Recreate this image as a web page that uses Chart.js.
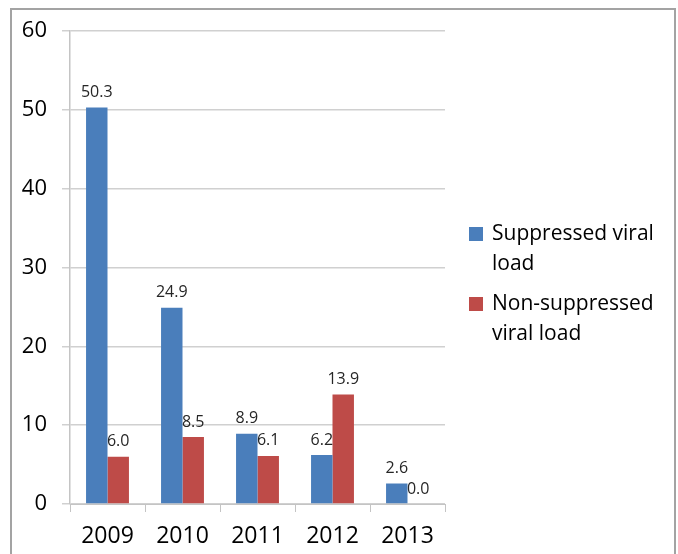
<!DOCTYPE html>
<html>
<head>
<meta charset="utf-8">
<script src="https://cdn.jsdelivr.net/npm/chart.js@4/dist/chart.umd.min.js"></script>
<style>
  html, body { margin: 0; padding: 0; background: #fff; overflow: hidden; }
  #wrap { position: relative; width: 678px; height: 554px; }
  #frame { position: absolute; left: 10px; top: 8px; width: 662px; height: 600px; border: 2px solid #a3a3a3; pointer-events: none; }
  canvas { position: absolute; left: 0; top: 0; }
</style>
</head>
<body>
<div id="wrap">
  <canvas id="c" width="678" height="554"></canvas>
  <div id="frame"></div>
</div>
<script>
const categories = ['2009', '2010', '2011', '2012', '2013'];
const suppressed = [50.3, 24.9, 8.9, 6.2, 2.6];
const nonSuppressed = [6.0, 8.5, 6.1, 13.9, 0.0];
const seriesNames = ['Suppressed viral load', 'Non-suppressed viral load'];
const legendLines = [['Suppressed viral', 'load'], ['Non-suppressed', 'viral load']];
const yTicks = [0, 10, 20, 30, 40, 50, 60];

const FONT = "'Open Sans', 'Liberation Sans', sans-serif";

const valueLabels = {
  id: 'valueLabels',
  afterDatasetsDraw(chart) {
    const ctx = chart.ctx;
    ctx.save();
    ctx.font = '16px ' + FONT;
    ctx.fillStyle = '#262626';
    ctx.textAlign = 'center';
    ctx.textBaseline = 'bottom';
    chart.data.datasets.forEach((ds, i) => {
      const meta = chart.getDatasetMeta(i);
      meta.data.forEach((bar, j) => {
        ctx.fillText(ds.data[j].toFixed(1), bar.x, bar.y - 7);
      });
    });
    ctx.restore();
  }
};

const sideLegend = {
  id: 'sideLegend',
  afterDraw(chart) {
    const ctx = chart.ctx;
    ctx.save();
    ctx.font = '21px ' + FONT;
    ctx.fillStyle = '#000';
    ctx.textBaseline = 'middle';
    ctx.textAlign = 'left';
    const x0 = 469, size = 14, textX = 492;
    const startY = [234, 304];
    chart.data.datasets.forEach((ds, i) => {
      const y = startY[i];
      ctx.fillStyle = ds.backgroundColor;
      ctx.fillRect(x0, y - size / 2, size, size);
      ctx.fillStyle = '#000';
      legendLines[i].forEach((line, k) => {
        ctx.fillText(line, textX, y + k * 30);
      });
    });
    ctx.restore();
  }
};

new Chart(document.getElementById('c'), {
  type: 'bar',
  data: {
    labels: categories,
    datasets: [
      { label: seriesNames[0], data: suppressed, backgroundColor: '#4A7EBB', categoryPercentage: 0.572, barPercentage: 1.0 },
      { label: seriesNames[1], data: nonSuppressed, backgroundColor: '#BE4B48', categoryPercentage: 0.572, barPercentage: 1.0 }
    ]
  },
  options: {
    responsive: false,
    animation: false,
    devicePixelRatio: 1,
    layout: { padding: { top: 31, right: 233, left: 0, bottom: 0 } },
    plugins: { legend: { display: false }, tooltip: { enabled: false } },
    scales: {
      x: {
        grid: { drawOnChartArea: false, drawTicks: true, tickLength: 8, offset: true, color: '#c4c4c4' },
        border: { color: '#c4c4c4', width: 1 },
        ticks: { font: { family: FONT, size: 23 }, color: '#000', padding: 11 },
        afterFit(scale) { scale.height = 50; }
      },
      y: {
        min: 0, max: 60,
        afterBuildTicks(scale) { scale.ticks = yTicks.map(v => ({ value: v })); },
        grid: { color: '#d0d0d0', tickLength: 8, lineWidth: 1.5 },
        border: { color: '#c4c4c4', width: 1.5 },
        ticks: { font: { family: FONT, size: 22 }, color: '#000', padding: 15, stepSize: 10 },
        afterFit(scale) { scale.width = 70; }
      }
    }
  },
  plugins: [valueLabels, sideLegend]
});
</script>
</body>
</html>
